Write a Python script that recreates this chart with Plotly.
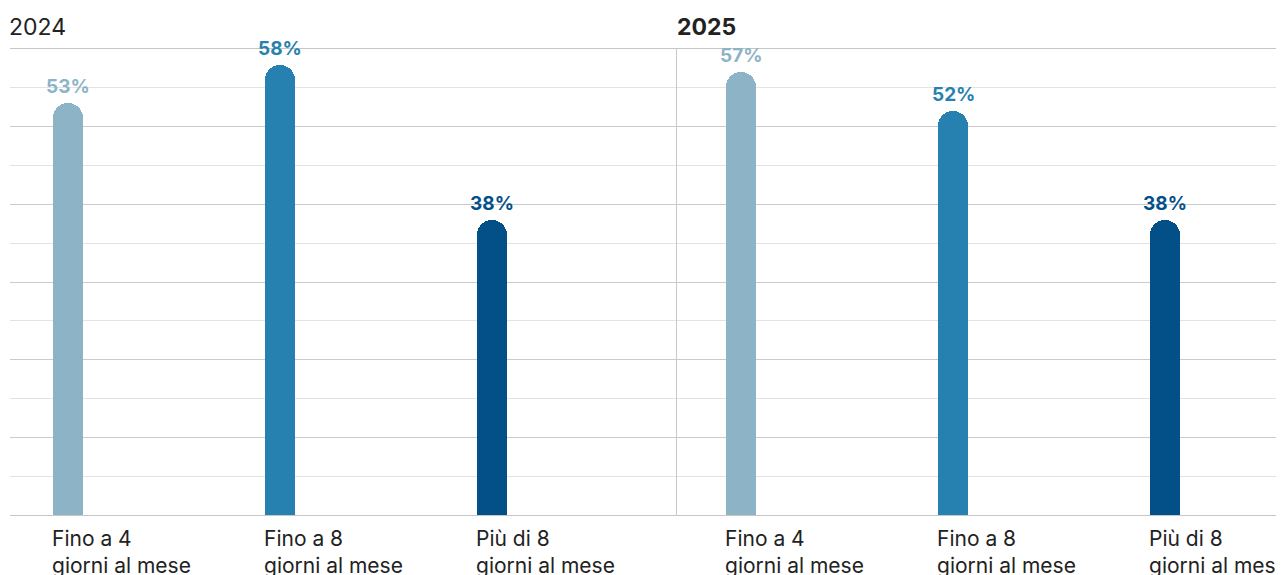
import plotly.graph_objects as go

categories = ["Fino a 4<br>giorni al mese", "Fino a 8<br>giorni al mese", "Più di 8<br>giorni al mese"]
values_2024 = [53, 58, 38]
values_2025 = [57, 52, 38]
panel_titles = ["2024", "2025"]
colors = ["#8DB4C6", "#2681B0", "#035089"]

# page has an 8px body margin; figure drawn at (8, 8)
W, H = 1276, 567
T, B = 41, 60
PH = H - T - B
unit = 212.0
bar_w = 30 / unit
font = "Inter, Roboto, sans-serif"

fig = go.Figure()
xs = list(range(len(categories)))
for k, vals in enumerate([values_2024, values_2025]):
    xa = "x" if k == 0 else "x2"
    ya = "y" if k == 0 else "y2"
    fig.add_trace(go.Bar(x=xs, y=vals, width=bar_w, marker=dict(color=colors, cornerradius=15, line=dict(width=0)),
                         xaxis=xa, yaxis=ya, hoverinfo="skip", showlegend=False))
    for i, v in enumerate(vals):
        fig.add_annotation(x=i, y=v, xref=xa, yref=ya, text=f"<b>{v}%</b>", showarrow=False,
                           yanchor="bottom", xanchor="center", yshift=3,
                           font=dict(family=font, size=19, color=colors[i]))
        fig.add_annotation(x=i - bar_w / 2, y=0, xref=xa, yref="paper", text=categories[i], showarrow=False,
                           yanchor="top", xanchor="left", yshift=-9, xshift=-3, align="left",
                           font=dict(family=font, size=21, color="#222222"))

ty = 1 + (T - 19) / PH
fig.add_annotation(x=0, y=ty, xref="paper", yref="paper", text=panel_titles[0], showarrow=False,
                   xanchor="left", yanchor="middle", xshift=-1, font=dict(family=font, size=23, color="#222222"))
fig.add_annotation(x=667 / W, y=ty, xref="paper", yref="paper", text=f"<b>{panel_titles[1]}</b>", showarrow=False,
                   xanchor="left", yanchor="middle", font=dict(family=font, size=23, color="#222222"))

yax = dict(range=[0, 60], dtick=10, showgrid=True, gridcolor="#CBCBCB", gridwidth=1,
           showticklabels=False, ticks="", zeroline=False,
           minor=dict(dtick=5, showgrid=True, gridcolor="#E3E3E3", gridwidth=1), fixedrange=True)
xax = dict(showticklabels=False, showgrid=False, zeroline=False, ticks="",
           showline=True, mirror=True, linecolor="#C6C6C6", linewidth=1)

s1 = -(60 - 2) / unit
s2 = -(733 - 669) / unit
fig.update_layout(
    width=W, height=H, margin=dict(l=0, r=0, t=T, b=B),
    paper_bgcolor="white", plot_bgcolor="white",
    xaxis=dict(domain=[2 / W, 669 / W], range=[s1, s1 + 667 / unit], **xax),
    xaxis2=dict(domain=[669 / W, 1], range=[s2, s2 + 607 / unit], **xax),
    yaxis=dict(**yax, anchor="x"),
    yaxis2=dict(**yax, anchor="x2", showline=True, linecolor="#C8C8C8", linewidth=1),
    bargap=0,
)
fig.write_html("out.html")
